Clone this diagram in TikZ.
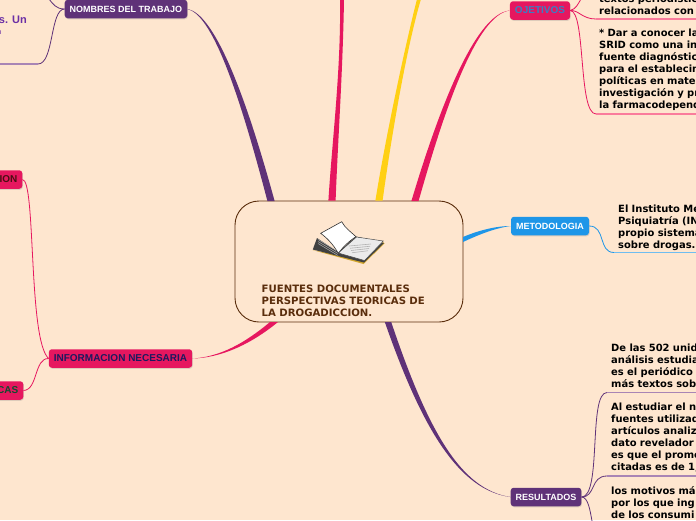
\documentclass[tikz,border=0pt]{standalone}
\usepackage{fontspec}
\setmainfont{DejaVu Sans}
\newfontfamily\labelfont{Liberation Sans}
\usetikzlibrary{shadows,calc}
\definecolor{bg}{HTML}{FEE6CF}
\definecolor{purp}{HTML}{5F3278}
\definecolor{pinkb}{HTML}{E6175F}
\definecolor{yell}{HTML}{FFD014}
\definecolor{blueb}{HTML}{1E96E8}
\definecolor{brownc}{HTML}{5A2D0C}
\definecolor{purpl}{HTML}{A985B5}
\definecolor{pinkl}{HTML}{FA7C9C}
\definecolor{bluel}{HTML}{6FBDF0}
\definecolor{violet}{HTML}{6B2FA5}
\definecolor{navyt}{HTML}{1C1A5E}
\definecolor{maroont}{HTML}{4A0F12}
\definecolor{greent}{HTML}{0F4D2E}
\definecolor{bluet}{HTML}{3A7FC4}
\tikzset{
  x=1pt,y=-1pt,
  branch/.style={rounded corners=3pt,minimum height=18.5pt,inner xsep=5pt,inner ysep=0pt,
     font=\labelfont\bfseries\fontsize{9}{11}\selectfont,
     drop shadow={shadow xshift=0.6pt,shadow yshift=-1pt,opacity=.25}},
  biglabel/.style={font=\labelfont\bfseries\fontsize{10}{12}\selectfont},
  body/.style={anchor=north west,inner sep=0pt,text width=130pt,align=left,text=black,
     font=\bfseries\fontsize{9.95}{12}\selectfont},
  thin/.style={line width=.8pt},
  under/.style={line width=1.5pt},
}
% tapered connector: colour, thin end, control 1, control 2, thick end, half width at thick end, half width at thin end
\newcommand{\taper}[7]{%
  \fill[#1] ($(#2)+(#7,0)$) .. controls ($(#3)+(#6*.25,0)$) and ($(#4)+(#6*.8,0)$) .. ($(#5)+(#6,0)$) -- ($(#5)-(#6,0)$)
     .. controls ($(#4)-(#6*.8,0)$) and ($(#3)-(#6*.25,0)$) .. ($(#2)-(#7,0)$) -- cycle;}
\begin{document}
\begin{tikzpicture}
\useasboundingbox (0,0) rectangle (696,520);
\clip (0,0) rectangle (696,520);
\fill[bg] (0,0) rectangle (696,520);

% central topic
\node[draw=brownc,line width=.9pt,fill=bg,rounded corners=24pt,minimum width=228pt,minimum height=121pt,inner sep=0pt]
   (central) at (349,261.5) {};
\node[anchor=north west,inner sep=0pt,text width=185pt,align=left,text=brownc,
      font=\bfseries\fontsize{10.15}{12}\selectfont] (title) at (261.5,284.5)
   {FUENTES DOCUMENTALES\\PERSPECTIVAS TEORICAS DE\\LA DROGADICCION.};

% book
\fill[brown!70!yellow] (312.5,250) -- (363.5,264) -- (384.5,243.5) -- (383,242) -- (362,260) -- cycle;
\fill[black!75] (317,238) -- (312.8,249.5) -- (338,256) -- (364,262.5) -- (384,243) -- (356,236.5) -- (338,252) -- cycle;
\foreach \d in {1.5,3.5,5.5}{\draw[white!70!black,line width=.5pt] (318,{238+\d}) -- (338,{250+\d});}
\fill[white!92!black,draw=black!70,line width=.5pt] (338.3,253) -- (356.5,237) -- (383.3,241) -- (364.5,260.5) -- cycle;
\foreach \d in {0,2.5,5,7.5}{\draw[black!30,line width=.6pt] ({349+\d*.4},{246+\d*.9}) -- ({371-\d*.4},{244+\d*.9});}
\fill[white,draw=black!80,line width=.6pt] (320.7,233.3) -- (341.7,221.7) .. controls (345,228) and (351,232) .. (356,236.7)
   .. controls (349,241) and (343,247) .. (338.3,253.3) .. controls (333,244) and (327,238) .. (320.7,233.3) -- cycle;

% main branches
\node[branch,fill=purp,text=white,minimum width=122pt] (nombres) at (126,9) {NOMBRES DEL TRABAJO};
\node[branch,biglabel,fill=pinkb,text=navyt,minimum width=143pt] (info) at (120.5,358.5) {INFORMACION NECESARIA};
\node[branch,biglabel,fill=pinkb,text=maroont,anchor=east,minimum width=60pt,text width=50pt,align=right] (ion) at (22.5,179.5) {ION};
\node[branch,biglabel,fill=pinkb,text=greent,anchor=east,minimum width=60pt,text width=50pt,align=right] (cas) at (23.5,390.5) {CAS};
\node[branch,biglabel,fill=pinkb,text=bluet,minimum width=60pt] (obj) at (540,10.5) {OJETIVOS};
\node[branch,fill=blueb,text=white,minimum width=78pt] (met) at (550,226) {METODOLOGIA};
\node[branch,fill=purp,text=white,minimum width=70pt] (res) at (546,497) {RESULTADOS};

% free ends and attachment points
\coordinate (c1) at (271,201);
\coordinate (c2) at (332,200.5);
\coordinate (c3) at (379,200.5);
\coordinate (c4) at (415,201);
\coordinate (c5) at (463,240);
\coordinate (c6) at (388,322);
\coordinate (c7) at (274,322);
\coordinate (t2) at (342,-1);
\coordinate (t3) at (419,-1);

\taper{purp}{nombres.east}{212,14}{240,85}{c1}{3.6}{.3}
\taper{pinkb}{t2}{342,70}{335,140}{c2}{3.6}{2}
\taper{yell}{t3}{405,50}{388,140}{c3}{3.6}{2}
\taper{pinkb}{obj.west}{475,14}{440,115}{c4}{3.6}{.3}
\fill[blueb] (met.west) .. controls (495,226) and (477,231) .. (463,237) -- (463,242) .. controls (478,235) and (495,228) .. (met.west) -- cycle;
\taper{purp}{res.west}{460,490}{425,430}{c6}{3.2}{.3}
\fill[pinkb] (info.east) .. controls (220,358) and (250,345) .. (278,322) -- (270,322) .. controls (245,343) and (220,357) .. (info.east) -- cycle;

% text
\node[anchor=east,inner sep=0pt,text=violet,font=\labelfont\bfseries\fontsize{11}{13}\selectfont] (s1) at (27,20) {s. Un};
\node[anchor=east,inner sep=0pt,text=violet,font=\labelfont\bfseries\fontsize{8}{10}\selectfont] (s2) at (1.5,32.5) {n};
\node[body] (o1) at (599,-6) {textos periodístic\\relacionados con};
\node[body] (o2) at (599,29) {* Dar a conocer la\\SRID como una in\\fuente diagnóstic\\para el establecin\\políticas en mate\\investigación y pr\\la farmacodepend};
\node[body] (m1) at (618,204.5) {El Instituto Me\\Psiquiatría (IN\\propio sistema\\sobre drogas.};
\node[body] (r1) at (611,344) {De las 502 unid\\análisis estudia\\es el periódico\\más textos sob};
\node[body] (r2) at (611,403) {Al estudiar el n\\fuentes utilizad\\artículos analiz\\dato revelador\\es que el prome\\citadas es de 1,};
\node[body] (r3) at (611,486) {los motivos má\\por los que ing\\de los consumi};

% thin connectors
\coordinate (eL) at (0,64);
\draw[purp,thin] (nombres.west) .. controls (56,9) and (53,4) .. (49,-1);
\draw[purp,thin] (nombres.west) .. controls (50,9) and (54,64) .. (38,64);
\draw[purpl,under] (38,64) -- (eL);
\draw[pinkb,thin] (ion.east) .. controls (36,180) and (28,340) .. (info.west);
\draw[pinkb,thin] (cas.east) .. controls (38,390) and (34,358) .. (info.west);
\draw[pinkb,thin] (obj.east) .. controls (576,9) and (578,4) .. (581,-1);
\draw[pinkb,thin] (obj.east) .. controls (579,10) and (582,19) .. (596,19);
\draw[pinkb,thin] (obj.east) .. controls (586,11) and (578,114) .. (596,114);
\draw[pinkl,under] (596,19) -- (696,19);
\draw[pinkl,under] (596,114) -- (696,114);
\draw[blueb,thin] (met.east) .. controls (606,226) and (598,252.5) .. (614,252.5);
\draw[bluel,under] (614,252.5) -- (696,252.5);
\draw[purp,thin] (res.east) .. controls (602,497) and (588,392.5) .. (607,392.5);
\draw[purp,thin] (res.east) .. controls (596,497) and (590,476) .. (607,476);
\draw[purp,thin] (res.east) .. controls (588,497) and (590,510) .. (592,521);
\draw[purpl,under] (607,392.5) -- (696,392.5);
\draw[purpl,under] (607,476) -- (696,476);
\end{tikzpicture}
\end{document}
